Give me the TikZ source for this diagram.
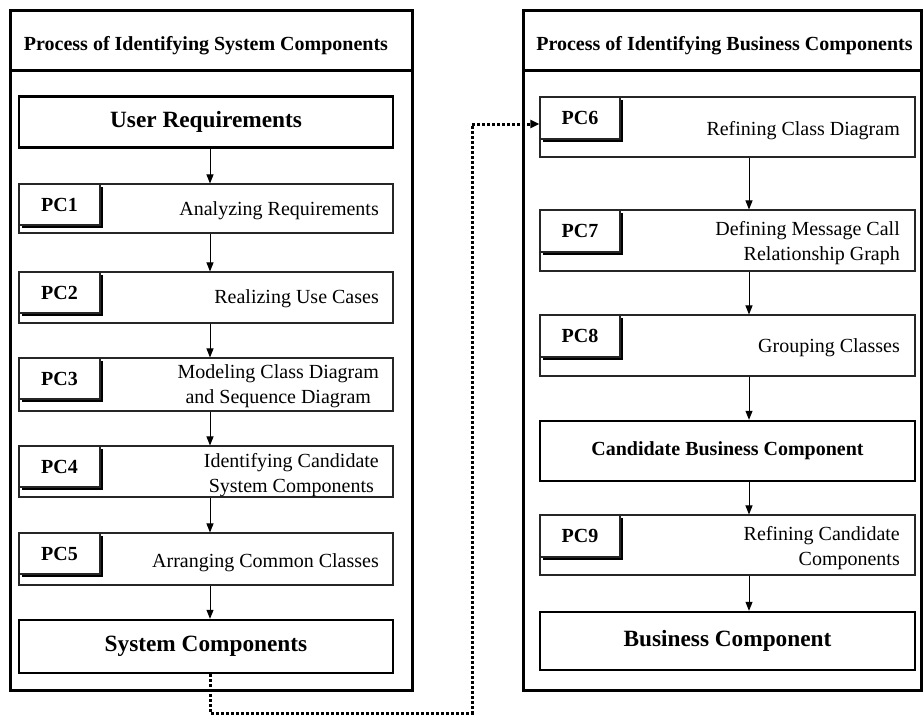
\documentclass[tikz,border=0pt]{standalone}
\usepackage{fontspec}
\setmainfont{Liberation Serif}
\usetikzlibrary{arrows.meta,shadows}
\begin{document}
\begin{tikzpicture}[x=1pt,y=-1pt,
  frame/.style={draw=black,line width=3pt},
  mainbox/.style={draw=black,line width=2.4pt,fill=white,minimum width=374pt,minimum height=51pt,inner sep=0pt,font=\fontsize{23.3}{27}\selectfont\bfseries},
  procbox/.style={draw=black!85,line width=1.1pt,fill=white,minimum width=374pt,inner sep=0pt},
  pclabel/.style={draw=black!85,line width=1.1pt,fill=white,minimum width=81pt,minimum height=41pt,inner sep=0pt,font=\fontsize{20}{24}\selectfont\bfseries,
    drop shadow={shadow xshift=3pt,shadow yshift=-3pt,fill=black,opacity=1}},
  desc/.style={font=\fontsize{20}{25}\selectfont,inner sep=0pt},
  hdr/.style={font=\fontsize{20}{24}\selectfont\bfseries,inner sep=0pt},
  arr/.style={line width=1pt,-{Triangle[length=9pt,width=7pt]}},
  dotarr/.style={line width=3pt,dash pattern=on 3pt off 2pt,-{Triangle[length=9pt,width=8pt]}}
]
\useasboundingbox (0,0) rectangle (923,720);

% ---------- left frame ----------
\draw[frame] (10,10) rectangle (412,690);
\draw[frame] (10,70) -- (412,70);
\node[hdr] (lhdr) at (206,46) {Process of Identifying System Components};

\node[mainbox] (ur) at (206,122) {User Requirements};

\node[procbox,minimum height=49pt] (pc1) at (206,208.5) {};
\node[pclabel] (l1) at (59.5,204.5) {PC1};
\node[desc,anchor=east] (d1) at (379,211) {Analyzing Requirements};

\node[procbox,minimum height=51pt] (pc2) at (206,297.5) {};
\node[pclabel] (l2) at (59.5,292.5) {PC2};
\node[desc,anchor=east] (d2) at (379,299) {Realizing Use Cases};

\node[procbox,minimum height=53pt] (pc3) at (206,384.5) {};
\node[pclabel] (l3) at (59.5,378.5) {PC3};
\node[desc,anchor=east,align=center] (d3) at (379,386.5) {Modeling Class Diagram\\and Sequence Diagram};

\node[procbox,minimum height=51pt] (pc4) at (206,471.5) {};
\node[pclabel] (l4) at (59.5,466.5) {PC4};
\node[desc,anchor=east,align=center] (d4) at (379,475) {Identifying Candidate\\System Components};

\node[procbox,minimum height=52pt] (pc5) at (206,559) {};
\node[pclabel] (l5) at (59.5,553.5) {PC5};
\node[desc,anchor=east] (d5) at (379,563) {Arranging Common Classes};

\node[mainbox,minimum height=53pt] (sc) at (206,646.5) {System Components};

\coordinate (lx) at (210,0);
\draw[arr] (ur.south -| lx) -- (pc1.north -| lx);
\draw[arr] (pc1.south -| lx) -- (pc2.north -| lx);
\draw[arr] (pc2.south -| lx) -- (pc3.north -| lx);
\draw[arr] (pc3.south -| lx) -- (pc4.north -| lx);
\draw[arr] (pc4.south -| lx) -- (pc5.north -| lx);
\draw[arr] (pc5.south -| lx) -- (sc.north -| lx);

% ---------- right frame ----------
\draw[frame] (523,10) rectangle (921.5,690);
\draw[frame] (523,70) -- (921.5,70);
\node[hdr] (rhdr) at (724.5,46) {Process of Identifying Business Components};

\node[procbox,minimum width=375pt,minimum height=60pt] (pc6) at (727.5,127) {};
\node[pclabel,minimum width=80pt,minimum height=42pt] (l6) at (580,118) {PC6};
\node[desc,anchor=east] (d6) at (900,131) {Refining Class Diagram};

\node[procbox,minimum width=375pt,minimum height=61pt] (pc7) at (727.5,240.5) {};
\node[pclabel,minimum width=80pt,minimum height=42pt] (l7) at (580,231) {PC7};
\node[desc,anchor=east,align=right] (d7) at (900,243.5) {Defining Message Call\\Relationship Graph};

\node[procbox,minimum width=375pt,minimum height=61pt] (pc8) at (727.5,345.5) {};
\node[pclabel,minimum width=80pt,minimum height=42pt] (l8) at (580,336) {PC8};
\node[desc,anchor=east] (d8) at (900,348) {Grouping Classes};

\node[mainbox,minimum width=375pt,minimum height=60pt,font=\fontsize{20}{24}\selectfont\bfseries] (cbc) at (727.5,451) {Candidate Business Component};

\node[procbox,minimum width=375pt,minimum height=60pt] (pc9) at (727.5,545) {};
\node[pclabel,minimum width=80pt,minimum height=42pt] (l9) at (580,536) {PC9};
\node[desc,anchor=east,align=right] (d9) at (900,548) {Refining Candidate\\Components};

\node[mainbox,minimum width=375pt,minimum height=58pt] (bc) at (727.5,641) {Business Component};

\coordinate (rx) at (749,0);
\draw[arr] (pc6.south -| rx) -- (pc7.north -| rx);
\draw[arr] (pc7.south -| rx) -- (pc8.north -| rx);
\draw[arr] (pc8.south -| rx) -- (cbc.north -| rx);
\draw[arr] (cbc.south -| rx) -- (pc9.north -| rx);
\draw[arr] (pc9.south -| rx) -- (bc.north -| rx);

% ---------- dotted connector ----------
\coordinate (c1) at (210,713);
\coordinate (c2) at (472,713);
\coordinate (c3) at (472,124);
\draw[dotarr] (sc.south -| lx) -- (c1) -- (c2) -- (c3) -- (c3 -| pc6.west);
\end{tikzpicture}
\end{document}
